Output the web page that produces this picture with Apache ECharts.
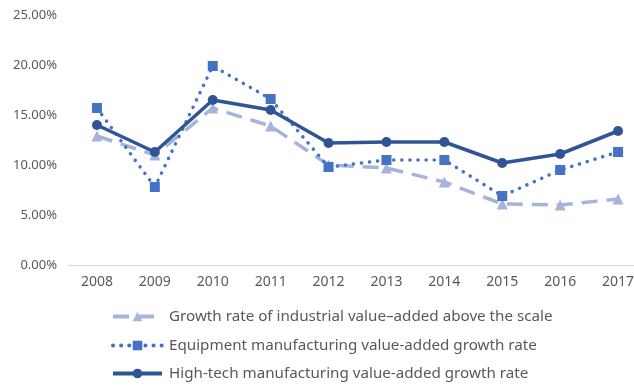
<!DOCTYPE html>
<html>
<head>
<meta charset="utf-8">
<script src="https://cdn.jsdelivr.net/npm/echarts@6/dist/echarts.min.js"></script>
<style>
  html, body { margin: 0; padding: 0; background: #fff; }
  #chart { width: 634px; height: 386px; }
</style>
</head>
<body>
<div id="chart"></div>
<script>
// Years on the horizontal axis
const years = ['2008', '2009', '2010', '2011', '2012', '2013', '2014', '2015', '2016', '2017'];

// Growth rates, in percent
const industrialAboveScale = [12.9, 11.0, 15.7, 13.9, 10.0, 9.7, 8.3, 6.1, 6.0, 6.6];
const equipmentManufacturing = [15.7, 7.8, 19.9, 16.6, 9.8, 10.5, 10.5, 6.9, 9.5, 11.3];
const highTechManufacturing = [14.0, 11.3, 16.5, 15.5, 12.2, 12.3, 12.3, 10.2, 11.1, 13.4];

const seriesNames = [
  'Growth rate of industrial value\u2013added above the scale',
  'Equipment manufacturing value-added growth rate',
  'High-tech manufacturing value-added growth rate'
];

const textColor = '#595959';
const fontFamily = '"Noto Sans", "DejaVu Sans", sans-serif';

// One legend per row so each row sits on its own line
const legendRowCenters = [316, 345, 373];
const legends = seriesNames.map(function (name, i) {
  return {
    orient: 'horizontal',
    left: 111,
    top: legendRowCenters[i] - 7,
    padding: 0,
    itemWidth: 49,
    itemHeight: 12,
    data: [name],
    lineStyle: { width: 4 },
    textStyle: { color: textColor, fontSize: 15.2, fontFamily: fontFamily, padding: [0, 0, 0, 2] }
  };
});

const chart = echarts.init(document.getElementById('chart'), null, { renderer: 'canvas' });

chart.setOption({
  animation: false,
  backgroundColor: '#ffffff',
  textStyle: { fontFamily: fontFamily },
  grid: { left: 68, top: 15, width: 579, bottom: 121, containLabel: false, outerBoundsMode: 'none' },
  legend: legends,
  xAxis: {
    type: 'category',
    data: years,
    boundaryGap: true,
    axisLine: { show: true, lineStyle: { color: '#d9d9d9', width: 1 } },
    axisTick: { show: false },
    axisLabel: { color: textColor, fontSize: 14, margin: 10, fontFamily: fontFamily },
    splitLine: { show: false }
  },
  yAxis: {
    type: 'value',
    min: 0,
    max: 25,
    interval: 5,
    axisLine: { show: false },
    axisTick: { show: false },
    splitLine: { show: false },
    axisLabel: {
      color: textColor,
      fontSize: 13,
      margin: 11,
      fontFamily: fontFamily,
      formatter: function (v) { return v.toFixed(2) + '%'; }
    }
  },
  series: [
    {
      name: seriesNames[0],
      type: 'line',
      data: industrialAboveScale,
      symbol: 'triangle',
      symbolSize: 11,
      itemStyle: { color: '#a8b3da' },
      lineStyle: { color: '#a8b3da', width: 3.5, type: [16, 9] },
      z: 2
    },
    {
      name: seriesNames[1],
      type: 'line',
      data: equipmentManufacturing,
      symbol: 'rect',
      symbolSize: 10,
      itemStyle: { color: '#4472c4' },
      lineStyle: { color: '#4472c4', width: 3.5, type: [0.1, 8], cap: 'round' },
      z: 3
    },
    {
      name: seriesNames[2],
      type: 'line',
      data: highTechManufacturing,
      symbol: 'circle',
      symbolSize: 10,
      itemStyle: { color: '#2f5597' },
      lineStyle: { color: '#2f5597', width: 3.5 },
      z: 4
    }
  ]
});
</script>
</body>
</html>
